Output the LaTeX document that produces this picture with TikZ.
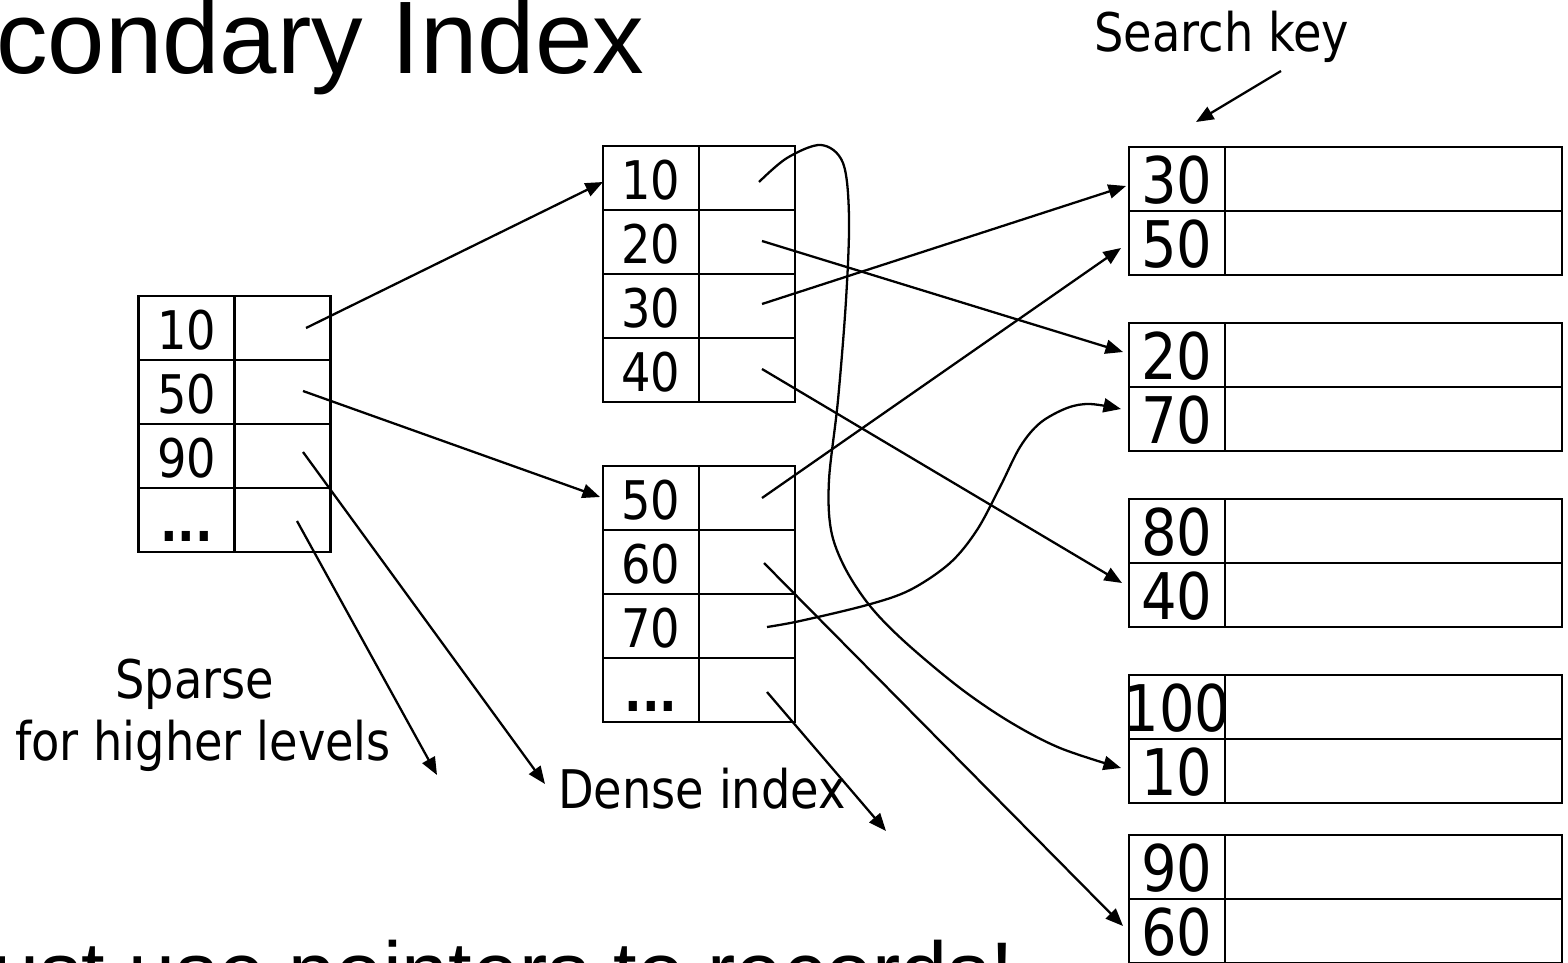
\documentclass[tikz,border=0pt]{standalone}
\usepackage{fontspec}
\usetikzlibrary{arrows.meta,calc}
\newfontfamily\labfont{DejaVu Sans}[FakeStretch=0.87]
\newfontfamily\titlefont{Liberation Sans}
\newcommand\idxrow[4]{%
  \node[keyw] (#1k) at (#2,#3) {};
  \node[keyw] (#1p) at (#1k.north east) {};
  \node[lab] (#1t) at ($(#1k.south)+(0,-10.5)$) {#4};
}
\newcommand\recrow[4]{%
  \node[keyw] (#1k) at (#2,#3) {};
  \node[dataw] (#1d) at (#1k.north east) {};
  \node[reclab] (#1t) at ($(#1k.south)+(0,-7)$) {#4};
}
\begin{document}
\begin{tikzpicture}[x=0.02cm,y=-0.02cm,
  cellbox/.style={draw, line width=1.3pt, inner sep=0pt, outer sep=0pt, minimum height=1.28cm, anchor=north west},
  keyw/.style={cellbox, minimum width=1.92cm},
  dataw/.style={cellbox, minimum width=6.74cm},
  lab/.style={font=\labfont\fontsize{30.3pt}{36pt}\selectfont, inner sep=0pt, anchor=base},
  reclab/.style={font=\labfont\fontsize{36.6pt}{44pt}\selectfont, inner sep=0pt, anchor=base},
  ptr/.style={line width=1.3pt, -{Triangle[length=10pt,width=8pt]}},
  bigtext/.style={inner sep=0pt, anchor=base west}]
\useasboundingbox (0,0) rectangle (1568,963);
\clip (0,0) rectangle (1568,963);

% titles
\node[bigtext, font=\titlefont\fontsize{58.7pt}{64pt}\selectfont] (title) at (-4,73) {condary Index};
\node[bigtext, font=\titlefont\fontsize{48.2pt}{54pt}\selectfont] (bottom) at (-8,1001) {ust use pointers to records!};

% sparse index
\idxrow{sa}{138.5}{296}{10}
\idxrow{sb}{138.5}{360}{50}
\idxrow{sc}{138.5}{424}{90}
\idxrow{sd}{138.5}{488}{\bfseries...}

% dense index
\idxrow{ma}{603}{146}{10}
\idxrow{mb}{603}{210}{20}
\idxrow{mc}{603}{274}{30}
\idxrow{md}{603}{338}{40}
\idxrow{me}{603}{466}{50}
\idxrow{mf}{603}{530}{60}
\idxrow{mg}{603}{594}{70}
\idxrow{mh}{603}{658}{\bfseries...}

% records
\recrow{ra1}{1129}{147}{30}
\recrow{ra2}{1129}{211}{50}
\recrow{rb1}{1129}{323}{20}
\recrow{rb2}{1129}{387}{70}
\recrow{rc1}{1129}{499}{80}
\recrow{rc2}{1129}{563}{40}
\recrow{rd1}{1129}{675}{100}
\recrow{rd2}{1129}{739}{10}
\recrow{re1}{1129}{835}{90}
\recrow{re2}{1129}{899}{60}

% labels
\node[lab] (sparse) at (195,698) {Sparse};
\node[lab] (higher) at (203,760) {for higher levels};
\node[lab] (dense) at (702,808) {Dense index};
\node[lab, anchor=base west] (skey) at (1094,52) {Search key};

% pointer starts
\coordinate (sas) at (306,328);
\coordinate (sbs) at (303,391);
\coordinate (scs) at (303,452);
\coordinate (sds) at (297,521);
\coordinate (mas) at (759,182);
\coordinate (mbs) at (762,241);
\coordinate (mcs) at (762,304);
\coordinate (mds) at (762,369);
\coordinate (mes) at (762,498);
\coordinate (mfs) at (764,563);
\coordinate (mgs) at (767,627);
\coordinate (mhs) at (767,692);
\coordinate (sks) at (1281,71);
% pointer tips
\coordinate (ta) at (603,182);
\coordinate (tb) at (600,497);
\coordinate (tc) at (545,784);
\coordinate (td) at (437,775);
\coordinate (t10) at (1121,768);
\coordinate (t20) at (1123,352);
\coordinate (t30) at (1126,186);
\coordinate (t40) at (1122,583);
\coordinate (t50) at (1121,248);
\coordinate (t60) at (1123,926);
\coordinate (t70) at (1121,409);
\coordinate (tdots) at (886,831);
\coordinate (tsk) at (1196,122);

\draw[ptr] (sas) -- (ta);
\draw[ptr] (sbs) -- (tb);
\draw[ptr] (scs) -- (tc);
\draw[ptr] (sds) -- (td);
\draw[ptr] (mbs) -- (t20);
\draw[ptr] (mcs) -- (t30);
\draw[ptr] (mds) -- (t40);
\draw[ptr] (mes) -- (t50);
\draw[ptr] (mfs) -- (t60);
\draw[ptr] (mhs) -- (tdots);
\draw[ptr] (sks) -- (tsk);
\draw[ptr] plot[smooth, tension=0.55] coordinates {(mas) (787,158) (821,145) (843,163) (849,217) (846,300) (838,400) (829,480) (831,530) (845,568) (870,606) (905,642) (960,688) (1010,722) (1060,748) (t10)};
\draw[ptr] plot[smooth, tension=0.55] coordinates {(mgs) (800,621) (867,605) (910,590) (950,563) (977,530) (1000,487) (1020,447) (1040,423) (1067,408) (1090,404) (t70)};
\end{tikzpicture}
\end{document}
